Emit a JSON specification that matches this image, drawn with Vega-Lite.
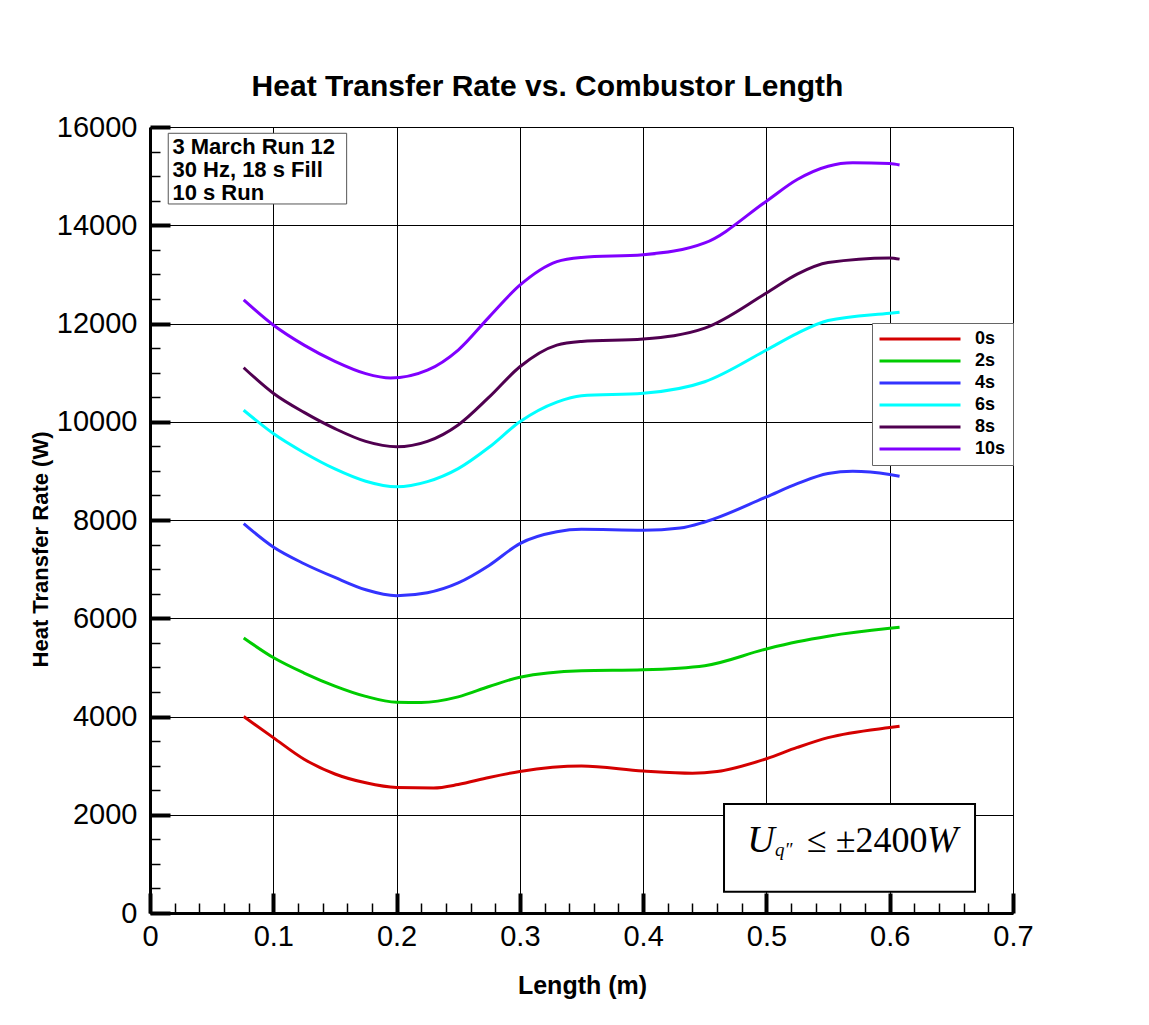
{
  "$schema": "https://vega.github.io/schema/vega-lite/v6.json",
  "width": 863,
  "height": 786,
  "autosize": {"type": "none"},
  "padding": {"left": 150, "top": 127, "right": 136, "bottom": 112},
  "background": "white",
  "config": {
    "view": {"stroke": null},
    "font": "Liberation Sans"
  },
  "title": {
    "text": "Heat Transfer Rate vs. Combustor Length",
    "font": "Liberation Sans",
    "fontSize": 30,
    "fontWeight": "bold",
    "color": "black",
    "anchor": "middle",
    "frame": "group",
    "dx": -34,
    "offset": -13,
    "baseline": "alphabetic"
  },
  "layer": [
    {
      "data": {
        "values": [
          {"t": "0s", "x": 0.076, "q": 4000}, {"t": "0s", "x": 0.1, "q": 3570}, {"t": "0s", "x": 0.125, "q": 3130}, {"t": "0s", "x": 0.15, "q": 2830}, {"t": "0s", "x": 0.175, "q": 2650}, {"t": "0s", "x": 0.2, "q": 2555}, {"t": "0s", "x": 0.23, "q": 2545}, {"t": "0s", "x": 0.25, "q": 2615}, {"t": "0s", "x": 0.275, "q": 2760}, {"t": "0s", "x": 0.3, "q": 2880}, {"t": "0s", "x": 0.35, "q": 2990}, {"t": "0s", "x": 0.4, "q": 2890}, {"t": "0s", "x": 0.44, "q": 2845}, {"t": "0s", "x": 0.46, "q": 2880}, {"t": "0s", "x": 0.5, "q": 3140}, {"t": "0s", "x": 0.525, "q": 3370}, {"t": "0s", "x": 0.55, "q": 3570}, {"t": "0s", "x": 0.6, "q": 3775}, {"t": "0s", "x": 0.608, "q": 3800},
          {"t": "2s", "x": 0.076, "q": 5600}, {"t": "2s", "x": 0.1, "q": 5200}, {"t": "2s", "x": 0.125, "q": 4885}, {"t": "2s", "x": 0.15, "q": 4620}, {"t": "2s", "x": 0.175, "q": 4410}, {"t": "2s", "x": 0.2, "q": 4290}, {"t": "2s", "x": 0.22, "q": 4285}, {"t": "2s", "x": 0.25, "q": 4400}, {"t": "2s", "x": 0.275, "q": 4610}, {"t": "2s", "x": 0.3, "q": 4800}, {"t": "2s", "x": 0.35, "q": 4930}, {"t": "2s", "x": 0.4, "q": 4950}, {"t": "2s", "x": 0.45, "q": 5035}, {"t": "2s", "x": 0.5, "q": 5375}, {"t": "2s", "x": 0.525, "q": 5520}, {"t": "2s", "x": 0.55, "q": 5635}, {"t": "2s", "x": 0.6, "q": 5795}, {"t": "2s", "x": 0.608, "q": 5815},
          {"t": "4s", "x": 0.076, "q": 7925}, {"t": "4s", "x": 0.1, "q": 7450}, {"t": "4s", "x": 0.125, "q": 7110}, {"t": "4s", "x": 0.15, "q": 6830}, {"t": "4s", "x": 0.175, "q": 6580}, {"t": "4s", "x": 0.2, "q": 6460}, {"t": "4s", "x": 0.225, "q": 6520}, {"t": "4s", "x": 0.25, "q": 6720}, {"t": "4s", "x": 0.275, "q": 7075}, {"t": "4s", "x": 0.3, "q": 7520}, {"t": "4s", "x": 0.33, "q": 7760}, {"t": "4s", "x": 0.35, "q": 7810}, {"t": "4s", "x": 0.4, "q": 7790}, {"t": "4s", "x": 0.43, "q": 7835}, {"t": "4s", "x": 0.45, "q": 7960}, {"t": "4s", "x": 0.5, "q": 8470}, {"t": "4s", "x": 0.525, "q": 8740}, {"t": "4s", "x": 0.55, "q": 8945}, {"t": "4s", "x": 0.57, "q": 8990}, {"t": "4s", "x": 0.6, "q": 8925}, {"t": "4s", "x": 0.608, "q": 8890},
          {"t": "6s", "x": 0.076, "q": 10235}, {"t": "6s", "x": 0.1, "q": 9760}, {"t": "6s", "x": 0.125, "q": 9370}, {"t": "6s", "x": 0.15, "q": 9040}, {"t": "6s", "x": 0.175, "q": 8790}, {"t": "6s", "x": 0.2, "q": 8675}, {"t": "6s", "x": 0.225, "q": 8780}, {"t": "6s", "x": 0.25, "q": 9045}, {"t": "6s", "x": 0.275, "q": 9480}, {"t": "6s", "x": 0.3, "q": 10000}, {"t": "6s", "x": 0.33, "q": 10400}, {"t": "6s", "x": 0.35, "q": 10530}, {"t": "6s", "x": 0.4, "q": 10580}, {"t": "6s", "x": 0.45, "q": 10815}, {"t": "6s", "x": 0.5, "q": 11460}, {"t": "6s", "x": 0.525, "q": 11800}, {"t": "6s", "x": 0.55, "q": 12060}, {"t": "6s", "x": 0.6, "q": 12210}, {"t": "6s", "x": 0.608, "q": 12230},
          {"t": "8s", "x": 0.076, "q": 11100}, {"t": "8s", "x": 0.1, "q": 10580}, {"t": "8s", "x": 0.125, "q": 10190}, {"t": "8s", "x": 0.15, "q": 9860}, {"t": "8s", "x": 0.175, "q": 9600}, {"t": "8s", "x": 0.2, "q": 9490}, {"t": "8s", "x": 0.225, "q": 9600}, {"t": "8s", "x": 0.25, "q": 9935}, {"t": "8s", "x": 0.275, "q": 10500}, {"t": "8s", "x": 0.3, "q": 11120}, {"t": "8s", "x": 0.33, "q": 11560}, {"t": "8s", "x": 0.35, "q": 11635}, {"t": "8s", "x": 0.4, "q": 11685}, {"t": "8s", "x": 0.45, "q": 11905}, {"t": "8s", "x": 0.5, "q": 12620}, {"t": "8s", "x": 0.525, "q": 13005}, {"t": "8s", "x": 0.55, "q": 13240}, {"t": "8s", "x": 0.6, "q": 13335}, {"t": "8s", "x": 0.608, "q": 13310},
          {"t": "10s", "x": 0.076, "q": 12480}, {"t": "10s", "x": 0.1, "q": 11970}, {"t": "10s", "x": 0.125, "q": 11560}, {"t": "10s", "x": 0.15, "q": 11230}, {"t": "10s", "x": 0.175, "q": 10980}, {"t": "10s", "x": 0.195, "q": 10890}, {"t": "10s", "x": 0.225, "q": 11050}, {"t": "10s", "x": 0.25, "q": 11460}, {"t": "10s", "x": 0.275, "q": 12130}, {"t": "10s", "x": 0.3, "q": 12780}, {"t": "10s", "x": 0.33, "q": 13260}, {"t": "10s", "x": 0.35, "q": 13345}, {"t": "10s", "x": 0.4, "q": 13400}, {"t": "10s", "x": 0.45, "q": 13640}, {"t": "10s", "x": 0.5, "q": 14490}, {"t": "10s", "x": 0.525, "q": 14930}, {"t": "10s", "x": 0.55, "q": 15200}, {"t": "10s", "x": 0.57, "q": 15270}, {"t": "10s", "x": 0.6, "q": 15255}, {"t": "10s", "x": 0.608, "q": 15225}
        ]
      },
      "mark": {"type": "line", "strokeWidth": 3, "interpolate": "monotone"},
      "encoding": {
        "x": {
          "field": "x",
          "type": "quantitative",
          "scale": {"domain": [0, 0.7], "nice": false, "zero": false},
          "axis": {
            "values": [0, 0.02, 0.04, 0.06, 0.08, 0.1, 0.12, 0.14, 0.16, 0.18, 0.2, 0.22, 0.24, 0.26, 0.28, 0.3, 0.32, 0.34, 0.36, 0.38, 0.4, 0.42, 0.44, 0.46, 0.48, 0.5, 0.52, 0.54, 0.56, 0.58, 0.6, 0.62, 0.64, 0.66, 0.68, 0.7],
            "tickCount": 200,
            "labelExpr": "abs(datum.value * 10 - round(datum.value * 10)) < 0.001 ? format(datum.value, '~g') : ''",
            "labelFont": "Liberation Sans",
            "labelFontSize": 29,
            "labelColor": "black",
            "labelPadding": 29,
            "labelFlush": false,
            "labelOverlap": false,
            "tickColor": "black",
            "tickSize": {"condition": {"test": "abs(datum.value * 10 - round(datum.value * 10)) < 0.001", "value": -20}, "value": -10},
            "tickWidth": {"condition": {"test": "abs(datum.value * 10 - round(datum.value * 10)) < 0.001", "value": 4}, "value": 1.5},
            "grid": true,
            "gridColor": "black",
            "gridWidth": 1,
            "gridOpacity": {"condition": {"test": "abs(datum.value * 10 - round(datum.value * 10)) < 0.001", "value": 1}, "value": 0},
            "domainColor": "black",
            "domainWidth": 3,
            "title": "Length (m)",
            "titleFont": "Liberation Sans",
            "titleFontSize": 25,
            "titleFontWeight": "bold",
            "titleColor": "black",
            "titleX": 432,
            "titleY": 72,
            "titleAlign": "center",
            "titleBaseline": "middle"
          }
        },
        "y": {
          "field": "q",
          "type": "quantitative",
          "scale": {"domain": [0, 16000], "nice": false},
          "axis": {
            "values": [0, 500, 1000, 1500, 2000, 2500, 3000, 3500, 4000, 4500, 5000, 5500, 6000, 6500, 7000, 7500, 8000, 8500, 9000, 9500, 10000, 10500, 11000, 11500, 12000, 12500, 13000, 13500, 14000, 14500, 15000, 15500, 16000],
            "tickCount": 200,
            "labelExpr": "datum.value % 2000 === 0 ? format(datum.value, 'd') : ''",
            "labelFont": "Liberation Sans",
            "labelFontSize": 29,
            "labelColor": "black",
            "labelPadding": 33,
            "labelFlush": false,
            "labelOverlap": false,
            "tickColor": "black",
            "tickSize": {"condition": {"test": "datum.value % 2000 === 0", "value": -20}, "value": -10},
            "tickWidth": {"condition": {"test": "datum.value % 2000 === 0", "value": 4}, "value": 1.5},
            "grid": true,
            "gridColor": "black",
            "gridWidth": 1,
            "gridOpacity": {"condition": {"test": "datum.value % 2000 === 0", "value": 1}, "value": 0},
            "domainColor": "black",
            "domainWidth": 3,
            "title": "Heat Transfer Rate (W)",
            "titleFont": "Liberation Sans",
            "titleFontSize": 22,
            "titleFontWeight": "bold",
            "titleColor": "black",
            "titleAngle": 270,
            "titleX": -110,
            "titleY": 422,
            "titleAlign": "center",
            "titleBaseline": "middle"
          }
        },
        "color": {
          "field": "t",
          "type": "nominal",
          "scale": {
            "domain": ["0s", "2s", "4s", "6s", "8s", "10s"],
            "range": ["#d40000", "#00cc00", "#3333ff", "#00ffff", "#500050", "#8000ff"]
          },
          "legend": {
            "orient": "none",
            "legendX": 722,
            "legendY": 196,
            "title": null,
            "symbolType": "M-4.25,0H36.25",
            "symbolSize": 16,
            "symbolStrokeWidth": 3,
            "labelFont": "Liberation Sans",
            "labelFontSize": 18,
            "labelFontWeight": "bold",
            "labelColor": "black",
            "labelOffset": 78,
            "rowPadding": 4,
            "padding": 7,
            "strokeColor": "#666666",
            "fillColor": "white"
          }
        }
      }
    },
    {
      "data": {"values": [{}]},
      "mark": {"type": "rect", "fill": "white", "stroke": "#555555", "strokeWidth": 1},
      "encoding": {
        "x": {"datum": 0.0148},
        "x2": {"datum": 0.1595},
        "y": {"datum": 15872},
        "y2": {"datum": 14433}
      }
    },
    {
      "data": {"values": [{}]},
      "mark": {
        "type": "text",
        "text": ["3 March Run 12", "30 Hz, 18 s Fill", "10 s Run"],
        "font": "Liberation Sans",
        "fontSize": 22,
        "fontWeight": "bold",
        "lineHeight": 23,
        "align": "left",
        "baseline": "alphabetic",
        "color": "black"
      },
      "encoding": {
        "x": {"datum": 0.0182},
        "y": {"datum": 15460}
      }
    },
    {
      "data": {"values": [{}]},
      "mark": {"type": "rect", "fill": "white", "stroke": "black", "strokeWidth": 2},
      "encoding": {
        "x": {"datum": 0.4656},
        "x2": {"datum": 0.6692},
        "y": {"datum": 2219},
        "y2": {"datum": 434}
      }
    },
    {
      "data": {"values": [{}]},
      "mark": {"type": "text", "text": "U", "font": "Liberation Serif", "fontStyle": "italic", "fontSize": 38, "align": "left", "baseline": "alphabetic", "color": "black"},
      "encoding": {"x": {"datum": 0.4845}, "y": {"datum": 1248}}
    },
    {
      "data": {"values": [{}]},
      "mark": {"type": "text", "text": "q″", "font": "Liberation Serif", "fontStyle": "italic", "fontSize": 19, "align": "left", "baseline": "alphabetic", "color": "black"},
      "encoding": {"x": {"datum": 0.5069}, "y": {"datum": 1160}}
    },
    {
      "data": {"values": [{}]},
      "mark": {"type": "text", "text": "≤ ±2400", "font": "Liberation Serif", "fontSize": 36, "align": "left", "baseline": "alphabetic", "color": "black"},
      "encoding": {"x": {"datum": 0.5329}, "y": {"datum": 1248}}
    },
    {
      "data": {"values": [{}]},
      "mark": {"type": "text", "text": "W", "font": "Liberation Serif", "fontStyle": "italic", "fontSize": 37, "align": "left", "baseline": "alphabetic", "color": "black"},
      "encoding": {"x": {"datum": 0.6302}, "y": {"datum": 1248}}
    }
  ]
}
